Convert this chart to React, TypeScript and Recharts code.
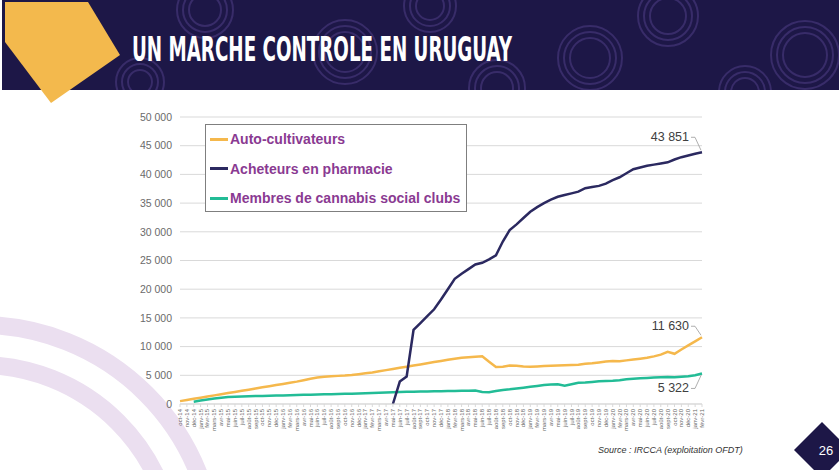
import React from 'react';
import { LineChart, Line, XAxis, YAxis, CartesianGrid } from 'recharts';

// monthly, oct-14 -> févr-21
const months = [
  'oct-14', 'nov-14', 'déc-14',
  'janv-15', 'févr-15', 'mars-15', 'avr-15', 'mai-15', 'juin-15', 'juil-15', 'août-15', 'sept-15', 'oct-15', 'nov-15', 'déc-15',
  'janv-16', 'févr-16', 'mars-16', 'avr-16', 'mai-16', 'juin-16', 'juil-16', 'août-16', 'sept-16', 'oct-16', 'nov-16', 'déc-16',
  'janv-17', 'févr-17', 'mars-17', 'avr-17', 'mai-17', 'juin-17', 'juil-17', 'août-17', 'sept-17', 'oct-17', 'nov-17', 'déc-17',
  'janv-18', 'févr-18', 'mars-18', 'avr-18', 'mai-18', 'juin-18', 'juil-18', 'août-18', 'sept-18', 'oct-18', 'nov-18', 'déc-18',
  'janv-19', 'févr-19', 'mars-19', 'avr-19', 'mai-19', 'juin-19', 'juil-19', 'août-19', 'sept-19', 'oct-19', 'nov-19', 'déc-19',
  'janv-20', 'févr-20', 'mars-20', 'avr-20', 'mai-20', 'juin-20', 'juil-20', 'août-20', 'sept-20', 'oct-20', 'nov-20', 'déc-20',
  'janv-21', 'févr-21',
];

const autoCultivateurs = [
  500, 700, 900,
  1100, 1300, 1500, 1700, 1900, 2100, 2300, 2500, 2700, 2900, 3100, 3300,
  3500, 3700, 3900, 4150, 4400, 4600, 4750, 4850, 4900, 4950, 5050, 5200,
  5350, 5500, 5700, 5900, 6100, 6300, 6500, 6700, 6900, 7100, 7300, 7500,
  7700, 7900, 8050, 8150, 8250, 8300, 7350, 6450, 6500, 6700, 6650, 6550,
  6500, 6550, 6600, 6650, 6700, 6750, 6800, 6850, 7000, 7100, 7250, 7400,
  7500, 7450, 7600, 7750, 7900, 8050, 8300, 8600, 9100, 8750, 9500, 10200,
  10900, 11630,
];

const acheteursPharmacie = [
  null, null, null,
  null, null, null, null, null, null, null, null, null, null, null, null,
  null, null, null, null, null, null, null, null, null, null, null, null,
  null, null, null, null, 0, 3900, 4800, 12900, 14100, 15300, 16500, 18200,
  20000, 21800, 22700, 23500, 24300, 24600, 25200, 25900, 28300, 30300, 31300, 32400,
  33500, 34300, 35000, 35600, 36100, 36400, 36700, 37000, 37600, 37800, 38000, 38400,
  39000, 39500, 40200, 40900, 41200, 41500, 41700, 41900, 42100, 42600, 43000, 43300,
  43600, 43851,
];

const membresClubs = [
  null, null, 400,
  600, 800, 950, 1100, 1200, 1250, 1300, 1350, 1380, 1410, 1440, 1470,
  1500, 1530, 1560, 1590, 1620, 1650, 1680, 1710, 1740, 1770, 1800, 1830,
  1860, 1900, 1950, 2000, 2050, 2100, 2130, 2150, 2170, 2190, 2210, 2230,
  2250, 2270, 2290, 2310, 2330, 2100, 2050, 2250, 2450, 2550, 2700, 2850,
  3000, 3150, 3300, 3400, 3450, 3200, 3450, 3700, 3750, 3850, 3950, 4000,
  4060, 4150, 4300, 4400, 4500, 4550, 4600, 4650, 4700, 4650, 4750, 4850,
  5000, 5322,
];

const yTicks = [0, 5000, 10000, 15000, 20000, 25000, 30000, 35000, 40000, 45000, 50000];

const data = months.map((m, i) => ({
  month: m,
  auto: autoCultivateurs[i],
  pharma: acheteursPharmacie[i],
  clubs: membresClubs[i],
}));

const ORANGE = '#f5b84c';
const NAVY = '#2b2960';
const GREEN = '#22bc96';
const PURPLE = '#8a3a92';
const FONT = "'Liberation Sans', Arial, sans-serif";

const fmt = (v: number) => String(v).replace(/\B(?=(\d{3})+(?!\d))/g, ' ');

const XTick = ({ x, y, payload }: any) => (
  <g transform={`translate(${x},${y})`}>
    <text transform="rotate(-90)" textAnchor="end" dy={2} fontSize={6} fill="#666" fontFamily={FONT}>
      {payload.value}
    </text>
  </g>
);

// end-of-series value with a little leader line, like the excel callouts
const endLabel = (dy: number) => (props: any) => {
  const { x, y, index, value } = props;
  if (index !== months.length - 1) return <g />;
  const ty = y + dy;
  return (
    <g>
      <path d={`M${x - 11},${ty} L${x - 7},${ty} L${x - 1},${y + (dy < 0 ? -2 : 2)}`} fill="none" stroke="#9a9a9a" strokeWidth={0.8} />
      <text x={x - 13} y={ty + 4} textAnchor="end" fontSize={12.5} fill="#404040" fontFamily={FONT}>
        {fmt(value)}
      </text>
    </g>
  );
};

const rings = [
  [205, 10, 28], [140, 82, 24], [345, 52, 32], [430, 6, 26], [497, 88, 28],
  [590, 58, 32], [668, 16, 30], [745, 92, 26], [805, 55, 34],
];

const Header = () => (
  <svg width={839} height={110} style={{ position: 'absolute', left: 0, top: 0 }}>
    <defs>
      <clipPath id="band">
        <rect x={2} y={0} width={837} height={90} />
      </clipPath>
    </defs>
    <rect x={2} y={0} width={837} height={90} fill="#1d1747" />
    <g clipPath="url(#band)" fill="none" stroke="#382c69" strokeWidth={2}>
      {rings.map(([cx, cy, r], i) => (
        <g key={i}>
          <circle cx={cx} cy={cy} r={r} />
          <circle cx={cx} cy={cy} r={r - 6} />
          <circle cx={cx} cy={cy} r={r - 12} />
        </g>
      ))}
    </g>
    <polygon points="5,2 88,2 120,55 51,103 5,42" fill="#f3b94d" />
    <text
      x={132}
      y={61}
      fontSize={33}
      fontWeight="bold"
      fill="#ffffff"
      fontFamily="'Liberation Sans Narrow', 'DejaVu Sans Condensed', 'Liberation Sans', sans-serif"
      textLength={380}
      lengthAdjust="spacingAndGlyphs"
    >
      UN MARCHE CONTROLE EN URUGUAY
    </text>
  </svg>
);

const legendItems = [
  { label: 'Auto-cultivateurs', color: ORANGE },
  { label: 'Acheteurs en pharmacie', color: NAVY },
  { label: 'Membres de cannabis social clubs', color: GREEN },
];

const LegendBox = () => (
  <div
    style={{
      position: 'absolute',
      left: 205,
      top: 124,
      width: 260,
      height: 86,
      background: '#fff',
      border: '1.5px solid #7f7f7f',
      fontFamily: FONT,
    }}
  >
    {legendItems.map((it, i) => (
      <div key={i} style={{ position: 'absolute', left: 4, top: 5 + i * 29.5, display: 'flex', alignItems: 'center', height: 18 }}>
        <div style={{ width: 18, height: 3, background: it.color }} />
        <span style={{ marginLeft: 2, fontSize: 14, fontWeight: 'bold', color: PURPLE, whiteSpace: 'nowrap' }}>{it.label}</span>
      </div>
    ))}
  </div>
);

export default function App() {
  return (
    <div style={{ position: 'absolute', left: 0, top: 0, width: 839, height: 470, overflow: 'hidden', background: '#fff' }}>
      <svg width={839} height={470} style={{ position: 'absolute', left: 0, top: 0 }}>
        <g fill="none" stroke="#ebdff0" strokeWidth={18}>
          <circle cx={-20} cy={560} r={235} />
          <circle cx={-20} cy={560} r={195} />
        </g>
      </svg>
      <div style={{ position: 'absolute', left: 0, top: 0 }}>
        <LineChart width={839} height={470} data={data} margin={{ top: 117, right: 137, bottom: 0, left: 0 }}>
          <CartesianGrid vertical={false} stroke="#d9d9d9" />
          <XAxis
            dataKey="month"
            interval={0}
            height={66}
            tick={<XTick />}
            tickSize={3}
            tickMargin={2}
            axisLine={{ stroke: '#d9d9d9' }}
            tickLine={{ stroke: '#d9d9d9' }}
          />
          <YAxis
            width={180}
            domain={[0, 50000]}
            ticks={yTicks}
            tickFormatter={fmt}
            axisLine={false}
            tickLine={false}
            tick={{ fill: '#6b6b6b', fontSize: 10.5, fontFamily: FONT }}
          />
          <Line type="linear" dataKey="auto" stroke={ORANGE} strokeWidth={2.5} dot={false} isAnimationActive={false} label={endLabel(-11)} />
          <Line type="linear" dataKey="clubs" stroke={GREEN} strokeWidth={2.5} dot={false} isAnimationActive={false} label={endLabel(15)} />
          <Line type="linear" dataKey="pharma" stroke={NAVY} strokeWidth={2.5} dot={false} isAnimationActive={false} label={endLabel(-15)} />
        </LineChart>
      </div>
      <LegendBox />
      <Header />
      <div
        style={{
          position: 'absolute',
          left: 598,
          top: 445,
          fontFamily: FONT,
          fontStyle: 'italic',
          fontSize: 9,
          color: '#333',
          whiteSpace: 'nowrap',
        }}
      >
        Source : IRCCA (exploitation OFDT)
      </div>
      <svg width={60} height={60} style={{ position: 'absolute', left: 790, top: 418 }}>
        <polygon points="32,4 60,32 32,60 4,32" fill="#1d1747" />
        <text x={36} y={37} textAnchor="middle" fontSize={13} fill="#fff" fontFamily={FONT}>
          26
        </text>
      </svg>
    </div>
  );
}
